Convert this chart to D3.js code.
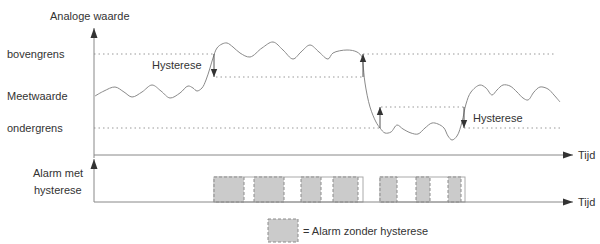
<!DOCTYPE html>
<html>
  <head>
    <meta charset="utf-8">
    <title>Hysterese</title>
    <script type="text/javascript" src="https://d3js.org/d3.v7.min.js"></script>
    <style>
      body { margin: 0; background: #fff; }
      text { font-family: "Liberation Sans", Arial, sans-serif; font-size: 11px; fill: #333; }
    </style>
  </head>
  <body>
    <script type="text/javascript">

      // time (t) and analog value (v) of the measured signal
      var waveT = [1,10,21,30,38,48,58,67,76,86,94,99,103,108,112,116,119,123,128,133,139,146,156,168,179,189,199,207,216,225,234,239,253,263,268,269,271,276,282,286,291,297,303,309,317,324,331,338,344,350,354,358,363,368,372,377,386,392,398,403,409,416,423,429,434,440,446,454,460,466];
      var waveV = [59,64,68,63,58,63,70,64,57,62,69,67,64,67,75,87,97,107,111,112,108,102,98,107,113,105,96,103,110,103,96,102,105,103,98,91,72,48,33,27,22,23,30,26,22,21,27,32,31,27,19,15,19,33,51,63,70,67,60,65,70,69,63,57,55,63,68,66,60,53];

      // levels
      var levelNames = ["bovengrens", "Meetwaarde", "ondergrens"];
      var levelValues = [101, 59, 27];

      // dotted threshold segments: [t0, t1, v]
      var thresholdSegments = [[0,121,101],[269,461,101],[122,269,78],[287,370,48],[0,286,27],[370,469,27]];

      // hysteresis arrows: [t, from v, to v]
      var hystArrows = [[120,101,78],[269,78,101],[286,27,48],[370,48,27]];

      // alarm periods
      var alarmZonder = [[120,150],[160,190],[207,227],[239,264],[286,303],[322,336],[354,367]];
      var alarmMet = [[120,269],[286,371]];

      var width = 600, height = 244;
      var svg = d3.select("body").append("svg").attr("width", width).attr("height", height);

      var x = d3.scaleLinear().domain([0, 470]).range([94, 564]);
      var y = d3.scaleLinear().domain([0, 127]).range([155, 28]);
      var yA = d3.scaleLinear().domain([0, 1]).range([202, 177]);

      var defs = svg.append("defs");
      defs.append("marker").attr("id", "tri")
        .attr("viewBox", "0 0 10 10").attr("refX", 10).attr("refY", 5)
        .attr("markerWidth", 10).attr("markerHeight", 10)
        .attr("markerUnits", "userSpaceOnUse")
        .attr("orient", "auto")
        .append("path").attr("d", "M0,1.5 L10,5 L0,8.5 Z").attr("fill", "#333");
      defs.append("marker").attr("id", "tris")
        .attr("viewBox", "0 0 10 10").attr("refX", 10).attr("refY", 5)
        .attr("markerWidth", 8).attr("markerHeight", 8)
        .attr("markerUnits", "userSpaceOnUse")
        .attr("orient", "auto")
        .append("path").attr("d", "M0,1 L10,5 L0,9 Z").attr("fill", "#333");

      // dotted lines
      svg.append("g").selectAll("line").data(thresholdSegments).enter().append("line")
        .attr("x1", function(d){ return x(d[0]); })
        .attr("x2", function(d){ return x(d[1]); })
        .attr("y1", function(d){ return y(d[2]); })
        .attr("y2", function(d){ return y(d[2]); })
        .attr("stroke", "#999").attr("stroke-width", 1)
        .attr("stroke-dasharray", "1.5,3");

      // top axes
      svg.append("line").attr("x1", x(0)).attr("x2", x(0)).attr("y1", y(0) + 3).attr("y2", y(127))
        .attr("stroke", "#888").attr("marker-end", "url(#tri)");
      svg.append("line").attr("x1", x(0)).attr("x2", 573).attr("y1", y(0)).attr("y2", y(0))
        .attr("stroke", "#888").attr("marker-end", "url(#tri)");

      // measured signal
      var wave = waveT.map(function(t, i){ return [t, waveV[i]]; });
      svg.append("path").datum(wave)
        .attr("fill", "none").attr("stroke", "#8a8a8a").attr("stroke-width", 1)
        .attr("d", d3.line().x(function(d){ return x(d[0]); }).y(function(d){ return y(d[1]); })
          .curve(d3.curveCatmullRom));

      // hysteresis arrows
      svg.append("g").selectAll("line").data(hystArrows).enter().append("line")
        .attr("x1", function(d){ return x(d[0]); })
        .attr("x2", function(d){ return x(d[0]); })
        .attr("y1", function(d){ return y(d[1]); })
        .attr("y2", function(d){ return y(d[2]); })
        .attr("stroke", "#555").attr("stroke-width", 1)
        .attr("marker-end", "url(#tris)");

      // labels
      svg.append("text").attr("x", 50).attr("y", 20).text("Analoge waarde");
      svg.selectAll(".lvl").data(levelNames).enter().append("text").attr("class", "lvl")
        .attr("x", 7).attr("y", function(d, i){ return y(levelValues[i]) + 4; })
        .text(function(d){ return d; });
      svg.append("text").attr("x", 152).attr("y", 69).text("Hysterese");
      svg.append("text").attr("x", 473).attr("y", 122).text("Hysterese");
      svg.append("text").attr("x", 578).attr("y", y(0) + 4).text("Tijd");

      // alarm section
      svg.append("g").selectAll("rect").data(alarmMet).enter().append("rect")
        .attr("x", function(d){ return x(d[0]); })
        .attr("width", function(d){ return x(d[1]) - x(d[0]); })
        .attr("y", yA(1)).attr("height", yA(0) - yA(1))
        .attr("fill", "#fff").attr("stroke", "#aaa");
      svg.append("g").selectAll("rect").data(alarmZonder).enter().append("rect")
        .attr("x", function(d){ return x(d[0]); })
        .attr("width", function(d){ return x(d[1]) - x(d[0]); })
        .attr("y", yA(1)).attr("height", yA(0) - yA(1))
        .attr("fill", "#cbcbcb").attr("stroke", "#8c8c8c").attr("stroke-dasharray", "3,2");

      svg.append("line").attr("x1", x(0)).attr("x2", x(0)).attr("y1", yA(0)).attr("y2", 159)
        .attr("stroke", "#888").attr("marker-end", "url(#tri)");
      svg.append("line").attr("x1", x(0)).attr("x2", 573).attr("y1", yA(0)).attr("y2", yA(0))
        .attr("stroke", "#888").attr("marker-end", "url(#tri)");

      svg.append("text").attr("x", 33).attr("y", 177).text("Alarm met");
      svg.append("text").attr("x", 34).attr("y", 194).text("hysterese");
      svg.append("text").attr("x", 578).attr("y", yA(0) + 4).text("Tijd");

      // legend
      svg.append("rect").attr("x", 268).attr("y", 219).attr("width", 30).attr("height", 23)
        .attr("fill", "#cbcbcb").attr("stroke", "#8c8c8c").attr("stroke-dasharray", "3,2");
      svg.append("text").attr("x", 303).attr("y", 235).text("= Alarm zonder hysterese");

    </script>
  </body>
</html>
